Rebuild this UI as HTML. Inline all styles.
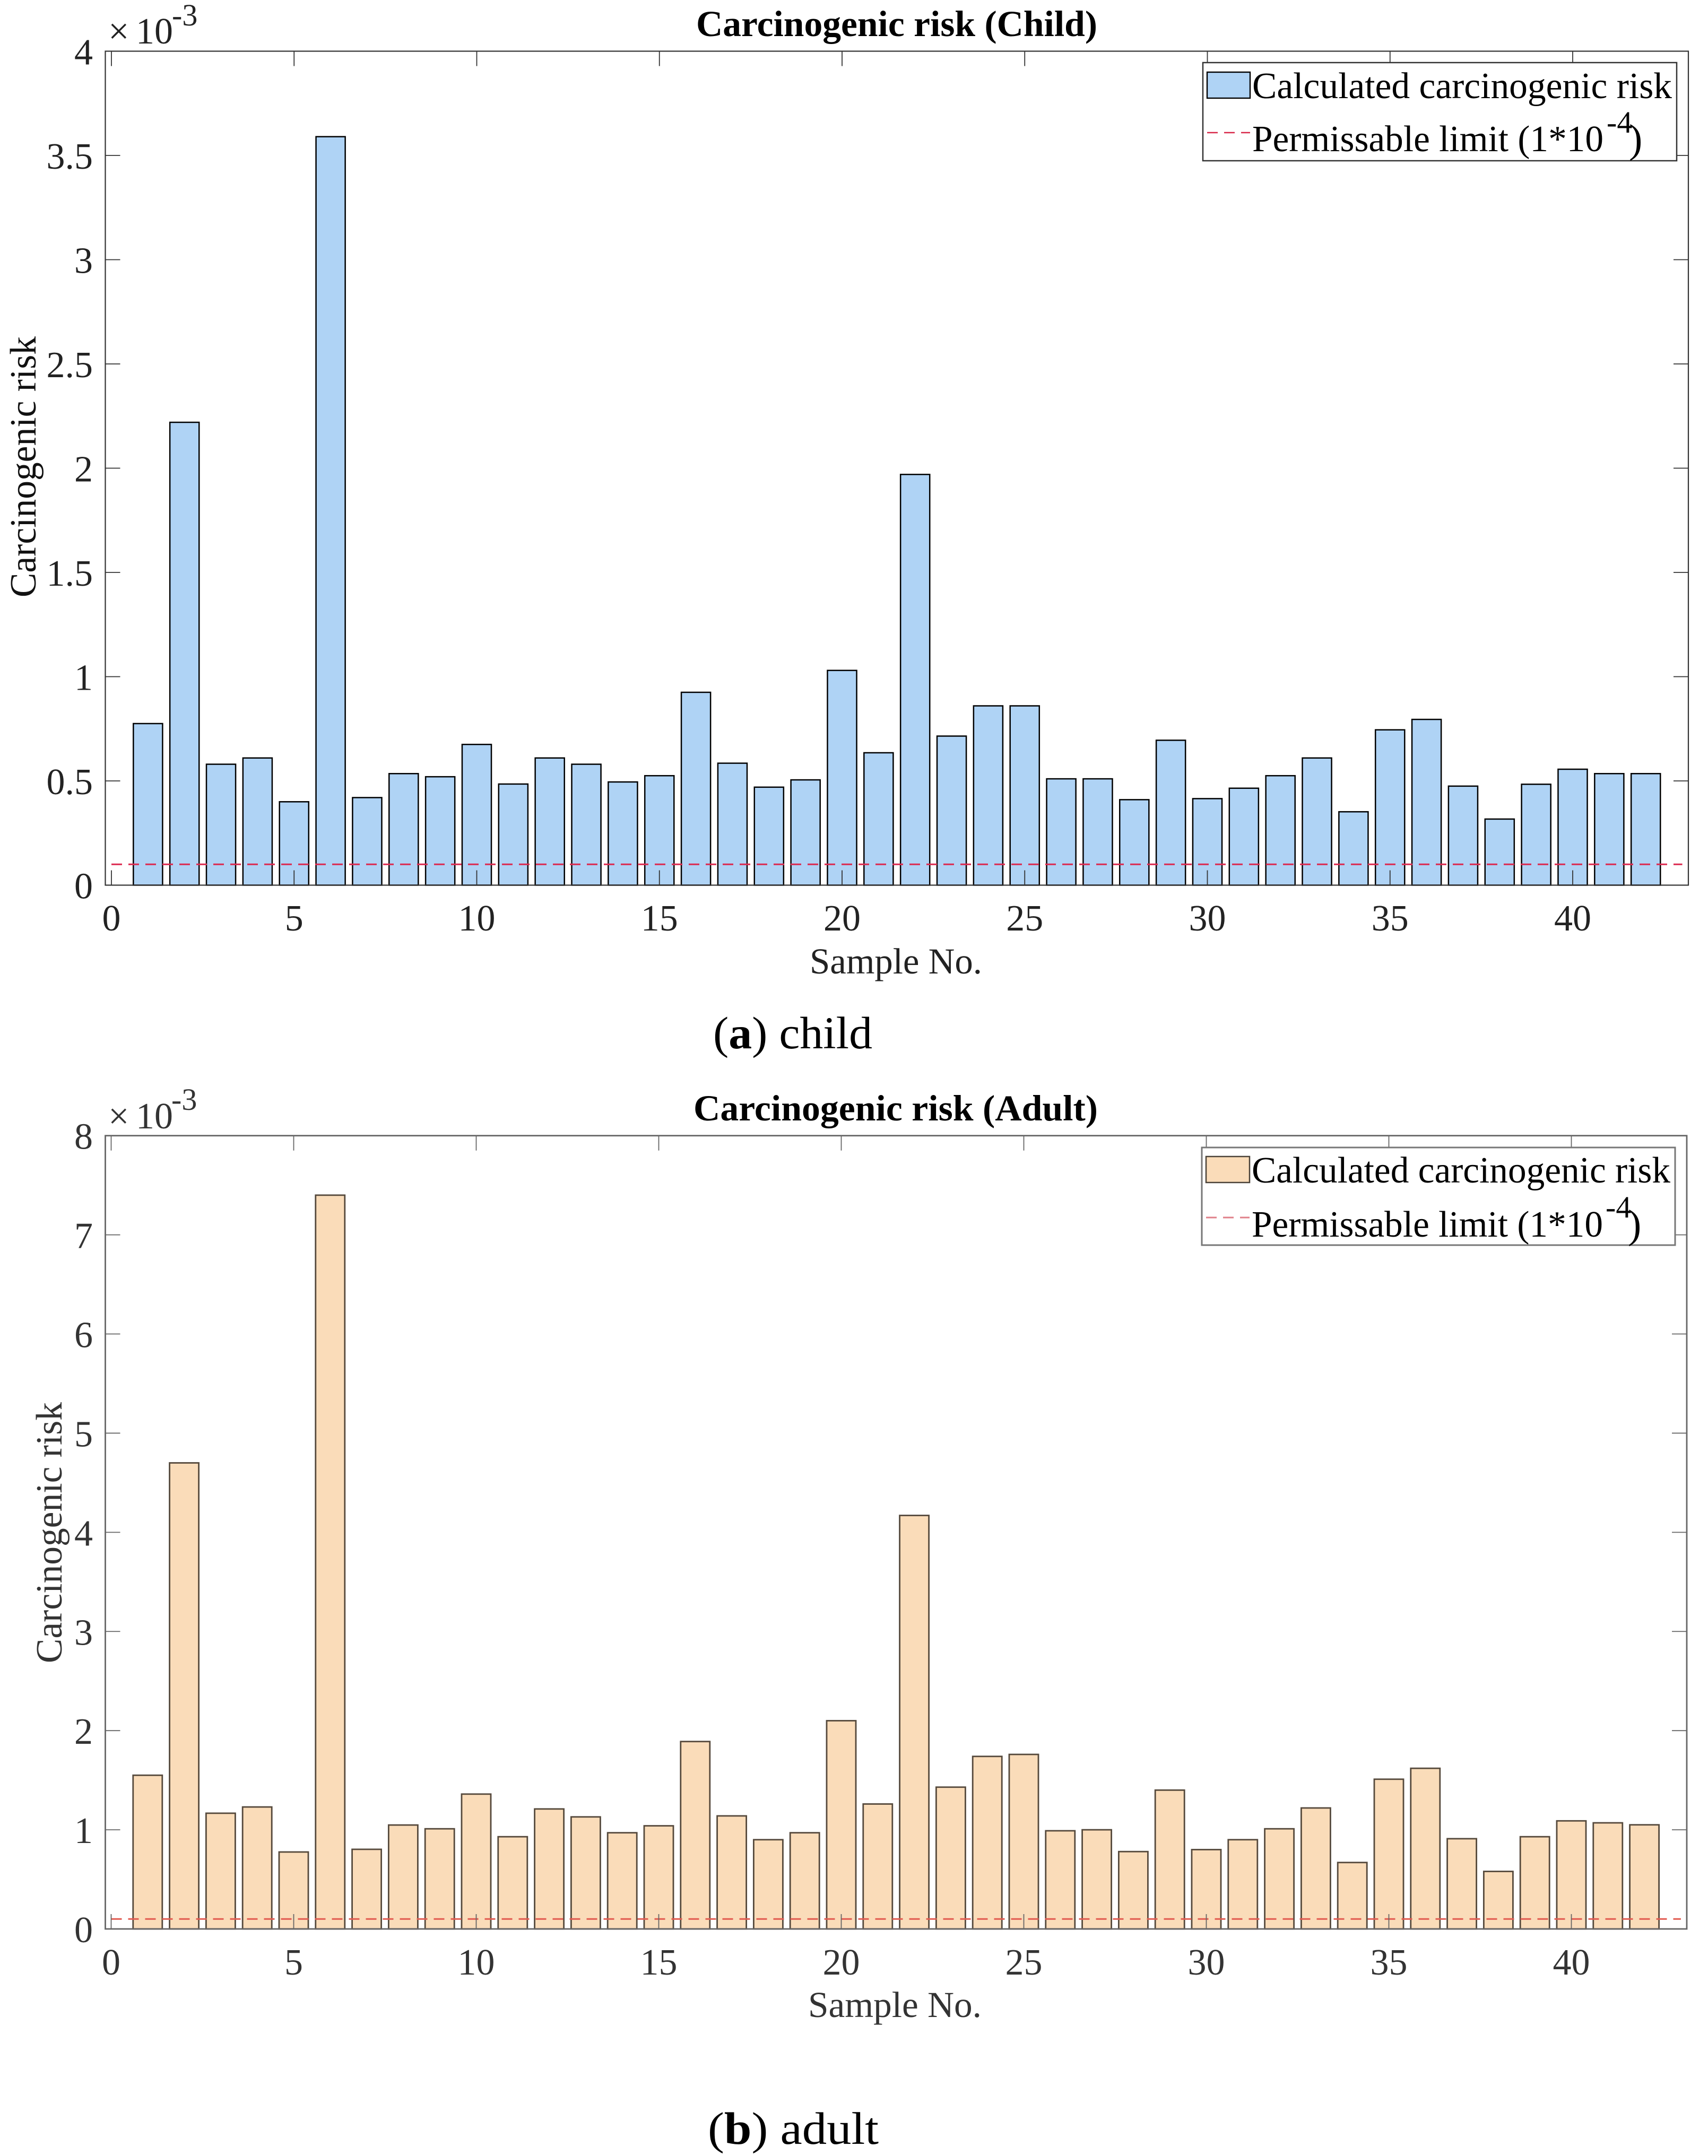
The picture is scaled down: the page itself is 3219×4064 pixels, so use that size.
<!DOCTYPE html>
<html lang="en">
<head>
<meta charset="utf-8">
<title>Carcinogenic risk charts</title>
<style>
html,body{margin:0;padding:0;background:#fff;width:3219px;height:4064px;overflow:hidden}
svg{display:block}
text{font-family:"Liberation Serif",serif}
</style>
</head>
<body>
<svg id="figure" xmlns="http://www.w3.org/2000/svg" width="3219" height="4064" viewBox="0 0 3219 4064">
  <rect x="0" y="0" width="3219" height="4064" fill="#fff"/>

  <g id="panel-child">
    <g id="child-bars"></g>
    <g id="child-limit"></g>
    <g id="child-axes"></g>
    <text x="1312" y="68" font-size="69" font-weight="bold" fill="#000" textLength="756" lengthAdjust="spacingAndGlyphs">Carcinogenic risk (Child)</text>
    <text x="1526" y="1835" font-size="69" fill="#222" textLength="325" lengthAdjust="spacingAndGlyphs">Sample No.</text>
    <text transform="translate(67,1126) rotate(-90)" x="0" y="0" font-size="69.5" fill="#111" textLength="492" lengthAdjust="spacingAndGlyphs">Carcinogenic risk</text>
    <g fill="#222">
      <text x="204" y="82" font-size="70">×</text>
      <text x="256" y="82" font-size="70">10</text>
      <text x="324" y="48" font-size="58">-3</text>
    </g>
    <g>
      <rect x="2267" y="118" width="893" height="185" fill="#fff" stroke="#333" stroke-width="2.5"/>
      <rect x="2275" y="136" width="81" height="49" fill="#AFD3F5" stroke="#000" stroke-width="2.4"/>
      <line x1="2275" y1="250" x2="2356" y2="250" stroke="#d8294a" stroke-width="2.5" stroke-dasharray="20 12"/>
      <text x="2360" y="185" font-size="70" fill="#000" textLength="791" lengthAdjust="spacingAndGlyphs">Calculated carcinogenic risk</text>
      <text x="2360" y="285" font-size="70" fill="#000" textLength="662" lengthAdjust="spacingAndGlyphs">Permissable limit (1*10</text>
      <text x="3028" y="250" font-size="58" fill="#000">-4</text>
      <text x="3070" y="287" font-size="76" fill="#000">)</text>
    </g>
    <text x="1344" y="1976" font-size="86" fill="#000" textLength="300" lengthAdjust="spacingAndGlyphs">(<tspan font-weight="bold">a</tspan>) child</text>
  </g>

  <g id="panel-adult">
    <g id="adult-bars"></g>
    <g id="adult-limit"></g>
    <g id="adult-axes"></g>
    <text x="1307" y="2112" font-size="69" font-weight="bold" fill="#000" textLength="762" lengthAdjust="spacingAndGlyphs">Carcinogenic risk (Adult)</text>
    <text x="1523" y="3802" font-size="69" fill="#333" textLength="327" lengthAdjust="spacingAndGlyphs">Sample No.</text>
    <text transform="translate(116,3135) rotate(-90)" x="0" y="0" font-size="69.5" fill="#333" textLength="492" lengthAdjust="spacingAndGlyphs">Carcinogenic risk</text>
    <g fill="#333">
      <text x="204" y="2127" font-size="70">×</text>
      <text x="256" y="2127" font-size="70">10</text>
      <text x="323" y="2092" font-size="58">-3</text>
    </g>
    <g>
      <rect x="2265" y="2163" width="892" height="184" fill="#fff" stroke="#777" stroke-width="3"/>
      <rect x="2273" y="2180" width="82" height="49" fill="#FADCB9" stroke="#4a4238" stroke-width="2.5"/>
      <line x1="2273" y1="2295" x2="2355" y2="2295" stroke="#e0808a" stroke-width="3" stroke-dasharray="20 12"/>
      <text x="2359" y="2229" font-size="70" fill="#000" textLength="789" lengthAdjust="spacingAndGlyphs">Calculated carcinogenic risk</text>
      <text x="2359" y="2331" font-size="70" fill="#000" textLength="662" lengthAdjust="spacingAndGlyphs">Permissable limit (1*10</text>
      <text x="3026" y="2295" font-size="58" fill="#000">-4</text>
      <text x="3068" y="2333" font-size="76" fill="#000">)</text>
    </g>
    <text x="1334" y="4041" font-size="86" fill="#000" textLength="322" lengthAdjust="spacingAndGlyphs">(<tspan font-weight="bold">b</tspan>) adult</text>
  </g>
</svg>

<script>
// Chart data (values in units of 10^-3)
const sampleNumbers = [1,2,3,4,5,6,7,8,9,10,11,12,13,14,15,16,17,18,19,20,21,22,23,24,25,26,27,28,29,30,31,32,33,34,35,36,37,38,39,40,41,42];
const childRisk = [0.775,2.22,0.58,0.61,0.40,3.59,0.42,0.535,0.52,0.675,0.485,0.61,0.58,0.495,0.525,0.925,0.585,0.47,0.505,1.03,0.635,1.97,0.715,0.86,0.86,0.51,0.51,0.41,0.695,0.415,0.465,0.525,0.61,0.352,0.745,0.795,0.475,0.317,0.484,0.556,0.535,0.535];
const adultRisk = [1.55,4.70,1.167,1.23,0.776,7.40,0.803,1.048,1.01,1.36,0.93,1.21,1.13,0.97,1.04,1.89,1.14,0.90,0.97,2.10,1.26,4.17,1.43,1.74,1.76,0.99,1.00,0.78,1.40,0.80,0.90,1.01,1.22,0.67,1.51,1.62,0.91,0.58,0.93,1.09,1.07,1.05];
const limitValue = [0.1];
const limitRange = [0, 43];
const xTickValues = [0,5,10,15,20,25,30,35,40];
const xTickLabels = ["0","5","10","15","20","25","30","35","40"];
const childYTickValues = [0,0.5,1,1.5,2,2.5,3,3.5,4];
const childYTickLabels = ["0","0.5","1","1.5","2","2.5","3","3.5","4"];
const adultYTickValues = [0,1,2,3,4,5,6,7,8];
const adultYTickLabels = ["0","1","2","3","4","5","6","7","8"];

const NS = 'http://www.w3.org/2000/svg';
function make(tag, attrs, parent, text) {
  const el = document.createElementNS(NS, tag);
  for (const k in attrs) el.setAttribute(k, attrs[k]);
  if (text !== undefined) el.textContent = text;
  parent.appendChild(el);
  return el;
}

function drawPanel(p, values, yTickValues, yTickLabels) {
  const xScale = v => p.x0 + v * p.unit;
  const yScale = v => p.bottom - (v / p.yMax) * (p.bottom - p.top);
  const barsG = document.getElementById(p.id + '-bars');
  const limitG = document.getElementById(p.id + '-limit');
  const axesG = document.getElementById(p.id + '-axes');
  const barW = 0.8 * p.unit;

  values.forEach((v, i) => {
    const r = make('rect', {
      x: xScale(sampleNumbers[i]) - barW / 2,
      y: yScale(v),
      width: barW,
      height: yScale(0) - yScale(v),
      fill: p.fill,
      stroke: p.edge,
      'stroke-width': p.edgeWidth
    }, barsG);
    
    
  });

  const lim = make('line', {
    x1: xScale(limitRange[0]), x2: xScale(limitRange[1]),
    y1: yScale(limitValue[0]), y2: yScale(limitValue[0]),
    stroke: p.limitColor, 'stroke-width': 3, 'stroke-dasharray': '20 12'
  }, limitG);
  
  

  const frame = make('rect', {
    x: p.left, y: p.top, width: p.right - p.left, height: p.bottom - p.top,
    fill: 'none', stroke: p.axis, 'stroke-width': p.axisWidth
  }, axesG);
  
  

  const tickLen = 28;
  xTickValues.forEach((v, i) => {
    const x = xScale(v);
    const b = make('line', {x1: x, x2: x, y1: p.bottom, y2: p.bottom - tickLen, stroke: p.axis, 'stroke-width': 1.8}, axesG);
    
    
    const t = make('line', {x1: x, x2: x, y1: p.top, y2: p.top + tickLen, stroke: p.axis, 'stroke-width': 1.8}, axesG);
    
    
    const label = make('text', {x: x, y: p.xLabelY, 'font-size': 70, 'text-anchor': 'middle', fill: p.textColor}, axesG, xTickLabels[i]);
    
    
  });

  yTickValues.forEach((v, i) => {
    const y = yScale(v);
    const l = make('line', {x1: p.left, x2: p.left + tickLen, y1: y, y2: y, stroke: p.axis, 'stroke-width': 1.8}, axesG);
    
    
    const r = make('line', {x1: p.right, x2: p.right - tickLen, y1: y, y2: y, stroke: p.axis, 'stroke-width': 1.8}, axesG);
    
    
    const label = make('text', {x: 175, y: y + 25, 'font-size': 70, 'text-anchor': 'end', fill: p.textColor}, axesG, yTickLabels[i]);
    
    
  });
}

drawPanel({
  id: 'child', left: 198.5, right: 3182, top: 96.5, bottom: 1668.5,
  x0: 210, unit: 68.85, yMax: 4, xLabelY: 1754,
  fill: '#AFD3F5', edge: '#000', edgeWidth: 2.5,
  axis: '#333', axisWidth: 2.2, textColor: '#222', limitColor: '#dc2a50'
}, childRisk, childYTickValues, childYTickLabels);

drawPanel({
  id: 'adult', left: 198.5, right: 3179, top: 2140.7, bottom: 3636,
  x0: 209.5, unit: 68.8, yMax: 8, xLabelY: 3722,
  fill: '#FADCB9', edge: '#55493c', edgeWidth: 2.8,
  axis: '#666', axisWidth: 2.8, textColor: '#333', limitColor: '#e25a50'
}, adultRisk, adultYTickValues, adultYTickLabels);
</script>
</body>
</html>
